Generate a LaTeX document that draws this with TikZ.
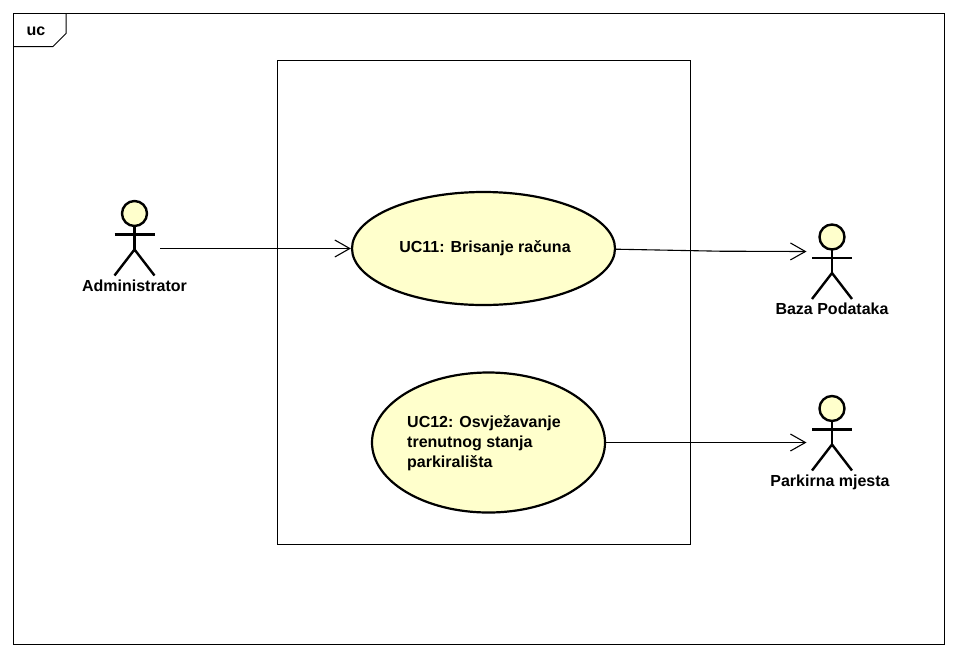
\documentclass[tikz,border=0pt]{standalone}
\usepackage{fontspec}
\setmainfont{Liberation Sans}
\usetikzlibrary{shapes.geometric,arrows.meta}
\definecolor{ucfill}{RGB}{255,255,204}
\tikzset{
  thinline/.style={draw=black,line width=1pt},
  usecase/.style={ellipse,draw=black,line width=2.2pt,fill=ucfill,inner sep=0pt,minimum width=#1},
  actorline/.style={draw=black,line width=2.4pt},
  head/.style={circle,draw=black,line width=2.4pt,fill=ucfill,minimum size=25pt,inner sep=0pt},
  lbl/.style={font=\fontsize{16}{20}\selectfont\bfseries,text=black,inner sep=0pt},
  assoc/.style={draw=black,line width=1.1pt,-{Straight Barb[length=15pt,width=17pt,line width=1.1pt]}},
}
\newcommand{\actorfig}[3]{% x, head y, name
  \node[head] (#3) at (#1,#2) {};
  \draw[actorline] (#1,#2+12.5) -- (#1,#2+36);
  \draw[actorline] (#1-20,#2+21) -- (#1+20,#2+21);
  \draw[actorline] (#1-20,#2+62) -- (#1,#2+36) -- (#1+20,#2+62);
}
\begin{document}
\begin{tikzpicture}[x=1pt,y=-1pt]
\useasboundingbox (0,0) rectangle (957,657);
\fill[white] (0,0) rectangle (957,657);
\draw[thinline] (13.5,13.5) rectangle (944.5,644.5);
\draw[thinline] (13.5,46.5) -- (53,46.5) -- (66,33.5) -- (66,13.5);
\node[lbl] (frametag) at (36,31) {uc};
\draw[thinline] (277.5,60.5) rectangle (690.5,544.5);

\node[usecase=263pt,minimum height=113pt] (uc11) at (483.5,248.5) {};
\node[lbl] (uc11t) at (485,248.5) {UC11: Brisanje računa};
\node[usecase=233pt,minimum height=140pt] (uc12) at (488.5,442.5) {};
\node[lbl,align=left,anchor=west] (uc12t) at (407,443) {UC12: Osvježavanje\\trenutnog stanja\\parkirališta};

\actorfig{134.5}{213.5}{admin}
\actorfig{832}{237}{baza}
\actorfig{832}{408.5}{park}
\node[lbl,anchor=base] (adminl) at (134.5,291.5) {Administrator};
\node[lbl,anchor=base] (bazal) at (832,314.5) {Baza Podataka};
\node[lbl,anchor=base] (parkl) at (830,486.5) {Parkirna mjesta};

\coordinate (adminr) at (160,248.5);
\coordinate (bazain) at (806.5,251.5);
\coordinate (bend) at (720,251.2);
\coordinate (parkin) at (806.5,442.5);
\draw[assoc] (adminr) -- (uc11.west);
\draw[assoc] ([yshift=-0.7pt]uc11.east) -- (bend) -- (bazain);
\draw[assoc] (uc12.east) -- (parkin);
\end{tikzpicture}
\end{document}
